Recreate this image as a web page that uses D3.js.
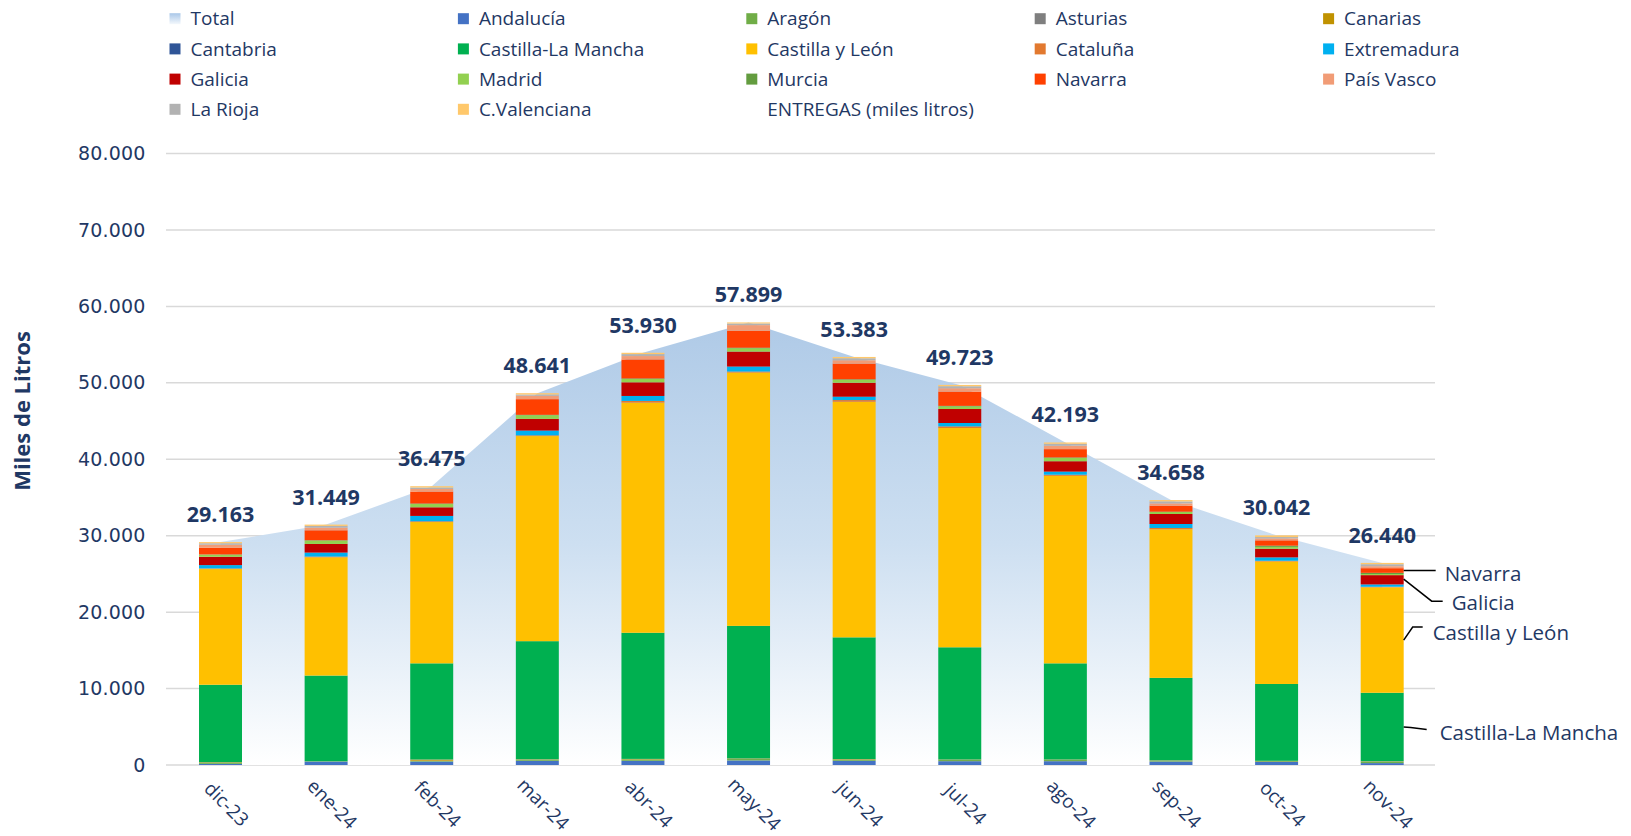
<!DOCTYPE html>
<html>
<head>
<meta charset="utf-8">
<title>Entregas</title>
<style>
  body, html { margin: 0; padding: 0; background: #fff; }
  svg text { font-family: "Open Sans", "Noto Sans", sans-serif; fill: #1f3864; }
</style>
</head>
<body>
<svg id="svg" width="1631" height="836"></svg>
<script src="https://d3js.org/d3.v7.min.js"></script>
<script>
// months on the x axis
const months = ['dic-23', 'ene-24', 'feb-24', 'mar-24', 'abr-24', 'may-24',
                'jun-24', 'jul-24', 'ago-24', 'sep-24', 'oct-24', 'nov-24']

// total deliveries (miles de litros)
const total = [29163, 31449, 36475, 48641, 53930, 57899, 53383, 49723, 42193, 34658, 30042, 26440]

// per region
const andalucia     = [150, 440, 450, 550, 550, 600, 550, 500, 500, 450, 400, 250]
const aragon        = [150, 30, 100, 150, 180, 180, 150, 150, 150, 100, 100, 200]
const asturias      = [5, 5, 10, 10, 10, 10, 10, 10, 10, 10, 10, 10]
const canarias      = [60, 10, 150, 40, 50, 60, 60, 50, 50, 40, 30, 30]
const cantabria     = [5, 5, 10, 10, 10, 10, 10, 10, 10, 10, 10, 10]
const castillaMancha = [10130, 11210, 12580, 15440, 16500, 17340, 15920, 14680, 12580, 10790, 10050, 8950]
const castillaLeon  = [15133, 15469, 18485, 26831, 30110, 33149, 30823, 28683, 24533, 19438, 16032, 13790]
const cataluna      = [80, 100, 100, 100, 220, 130, 220, 220, 150, 170, 90, 80]
const extremadura   = [440, 520, 700, 620, 650, 650, 440, 440, 400, 520, 440, 300]
const galicia       = [1090, 1130, 1130, 1530, 1790, 1960, 1830, 1830, 1360, 1310, 1130, 1220]
const madrid        = [260, 440, 440, 480, 440, 440, 390, 350, 440, 260, 250, 150]
const murcia        = [40, 40, 50, 50, 60, 60, 60, 60, 50, 40, 150, 150]
const navarra       = [870, 1310, 1570, 2050, 2490, 2220, 2050, 1870, 1090, 790, 700, 610]
const paisVasco     = [400, 350, 330, 440, 440, 740, 440, 440, 440, 300, 260, 260]
const laRioja       = [200, 220, 200, 170, 260, 220, 260, 260, 260, 260, 170, 260]
const cValenciana   = [150, 170, 170, 170, 170, 130, 170, 170, 170, 170, 220, 170]

const yTicks = [0, 10000, 20000, 30000, 40000, 50000, 60000, 70000, 80000]

const regions = [
  { name: 'Andalucía', values: andalucia, color: '#4472c4' },
  { name: 'Aragón', values: aragon, color: '#70ad47' },
  { name: 'Asturias', values: asturias, color: '#7f7f7f' },
  { name: 'Canarias', values: canarias, color: '#c09200' },
  { name: 'Cantabria', values: cantabria, color: '#2f5597' },
  { name: 'Castilla-La Mancha', values: castillaMancha, color: '#00b050' },
  { name: 'Castilla y León', values: castillaLeon, color: '#ffc000' },
  { name: 'Cataluña', values: cataluna, color: '#e2792f' },
  { name: 'Extremadura', values: extremadura, color: '#00b0f0' },
  { name: 'Galicia', values: galicia, color: '#c00000' },
  { name: 'Madrid', values: madrid, color: '#92d050' },
  { name: 'Murcia', values: murcia, color: '#639c3f' },
  { name: 'Navarra', values: navarra, color: '#ff4000' },
  { name: 'País Vasco', values: paisVasco, color: '#f19c76' },
  { name: 'La Rioja', values: laRioja, color: '#b2b2b2' },
  { name: 'C.Valenciana', values: cValenciana, color: '#ffc86b' }
]

const fmt = v => d3.format(',')(v).replace(/,/g, '.')

const svg = d3.select('#svg')

// scales
const x = d3.scaleBand()
  .domain(months)
  .range([167.7, 1435])
  .paddingInner(0.593)
  .paddingOuter(0.2965)

const y = d3.scaleLinear()
  .domain([0, 80000])
  .range([765, 153.5])

const cx = m => x(m) + x.bandwidth() / 2

// gradient for the Total area
const defs = svg.append('defs')
const grad = defs.append('linearGradient')
  .attr('id', 'totalGrad')
  .attr('x1', 0).attr('y1', 0).attr('x2', 0).attr('y2', 1)
grad.append('stop').attr('offset', '0%').attr('stop-color', '#afcae7')
grad.append('stop').attr('offset', '50%').attr('stop-color', '#cddff1')
grad.append('stop').attr('offset', '100%').attr('stop-color', '#ffffff')

const legGrad = defs.append('linearGradient')
  .attr('id', 'legGrad')
  .attr('x1', 0).attr('y1', 0).attr('x2', 0).attr('y2', 1)
legGrad.append('stop').attr('offset', '0%').attr('stop-color', '#a9c7e8')
legGrad.append('stop').attr('offset', '100%').attr('stop-color', '#f4f8fc')

// gridlines
svg.append('g')
  .selectAll('line')
  .data(yTicks)
  .join('line')
  .attr('x1', 166)
  .attr('x2', 1435)
  .attr('y1', d => y(d))
  .attr('y2', d => y(d))
  .attr('stroke', '#d9d9d9')
  .attr('stroke-width', 1.5)

// y tick labels
svg.append('g')
  .selectAll('text')
  .data(yTicks)
  .join('text')
  .attr('x', 145.6)
  .attr('y', d => y(d))
  .attr('dy', '0.35em')
  .attr('text-anchor', 'end')
  .attr('font-size', 19)
  .style('font-family', '"DejaVu Sans", sans-serif')
  .style('letter-spacing', '0.2px')
  .text(d => fmt(d))

// y title
svg.append('text')
  .attr('transform', 'translate(30, 411) rotate(-90)')
  .attr('text-anchor', 'middle')
  .attr('font-size', 22)
  .attr('font-weight', 'bold')
  .text('Miles de Litros')

// Total area
const area = d3.area()
  .x((d, i) => cx(months[i]))
  .y0(y(0))
  .y1(d => y(d))

svg.append('path')
  .datum(total)
  .attr('d', area)
  .attr('fill', 'url(#totalGrad)')

// stacked bars
const table = months.map((m, i) => {
  const row = { month: m }
  regions.forEach(r => { row[r.name] = r.values[i] })
  return row
})
const stack = d3.stack().keys(regions.map(r => r.name))
const series = stack(table)

svg.append('g')
  .selectAll('g')
  .data(series)
  .join('g')
  .attr('fill', (d, i) => regions[i].color)
  .selectAll('rect')
  .data(d => d)
  .join('rect')
  .attr('x', d => x(d.data.month))
  .attr('width', x.bandwidth())
  .attr('y', d => y(d[1]))
  .attr('height', d => y(d[0]) - y(d[1]))

// total labels
svg.append('g')
  .selectAll('text')
  .data(total)
  .join('text')
  .attr('x', (d, i) => cx(months[i]))
  .attr('y', d => y(d) - 20)
  .attr('text-anchor', 'middle')
  .attr('font-size', 21.5)
  .attr('font-weight', 'bold')
  .text(d => fmt(d))

// x labels, rotated
svg.append('g')
  .selectAll('text')
  .data(months)
  .join('text')
  .attr('transform', d => `translate(${cx(d) + 6}, 804) rotate(45)`)
  .attr('text-anchor', 'middle')
  .attr('dy', '0.35em')
  .attr('font-size', 19)
  .text(d => d)

// annotations on the last bar
const last = months.length - 1
const lastX = x(months[last]) + x.bandwidth()
const annotations = [
  { name: 'Navarra', pts: [[0, 0], [32, 0]], tx: 41, ty: 3 },
  { name: 'Galicia', pts: [[0, 0], [28, 22], [39, 22]], tx: 48, ty: 23.5 },
  { name: 'Castilla y León', pts: [[0, 0], [9, -13], [19, -13]], tx: 29, ty: -7.5 },
  { name: 'Castilla-La Mancha', pts: [[0, 0], [7, 0.5], [23, 2.5]], tx: 36, ty: 6 }
]
const segs = {}
series.forEach(s => { segs[s.key] = s[last] })

annotations.forEach(a => {
  const s = segs[a.name]
  let sy = y((s[0] + s[1]) / 2)
  if (a.name === 'Galicia') sy = y(s[1]) + 4
  svg.append('path')
    .attr('d', d3.line()(a.pts.map(p => [lastX + p[0], sy + p[1]])))
    .attr('fill', 'none')
    .attr('stroke', '#000')
    .attr('stroke-width', 1.5)
  svg.append('text')
    .attr('x', lastX + a.tx)
    .attr('y', sy + a.ty)
    .attr('dy', '0.35em')
    .attr('font-size', 20.5)
    .text(a.name)
})

// legend
const legendItems = [{ name: 'Total', color: 'url(#legGrad)' }]
  .concat(regions.map(r => ({ name: r.name, color: r.color })))
  .concat([{ name: 'ENTREGAS (miles litros)', color: 'none' }])

const legend = svg.append('g')
  .selectAll('g')
  .data(legendItems)
  .join('g')
  .attr('transform', (d, i) => `translate(${169.5 + (i % 5) * 288.4}, ${18.7 + Math.floor(i / 5) * 30.2})`)

legend.append('rect')
  .attr('x', 0)
  .attr('y', -5.5)
  .attr('width', 11)
  .attr('height', 11)
  .attr('fill', d => d.color)

legend.append('text')
  .attr('x', 21)
  .attr('dy', '0.35em')
  .attr('font-size', 19)
  .text(d => d.name)
</script>
</body>
</html>
